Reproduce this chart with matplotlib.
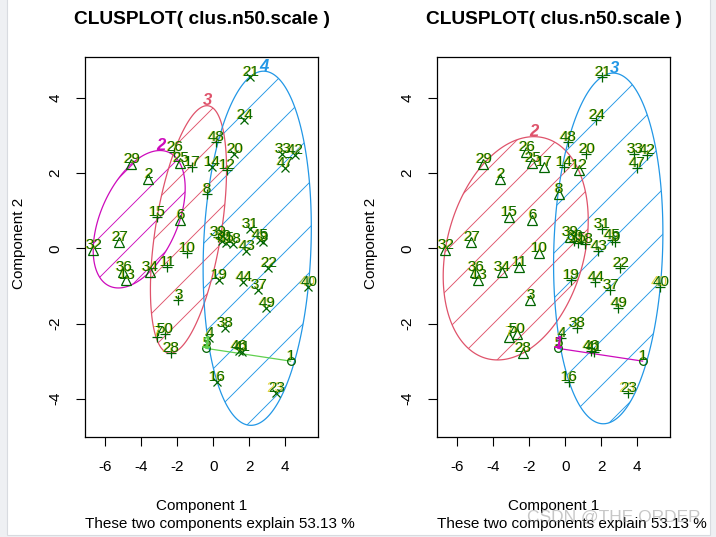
import numpy as np
import matplotlib
matplotlib.use('Agg')
import matplotlib.pyplot as plt
from matplotlib.patches import Polygon, Rectangle
from matplotlib.transforms import offset_copy

plt.rcParams['font.family'] = ['Liberation Sans', 'DejaVu Sans']

obs = list(range(1, 51))
pc1 = [4.30, -3.61, -1.94, -0.22, -0.41, -1.85, -3.10, -0.37, 2.75, -1.44,
       -2.56, 0.74, -4.82, -0.05, -3.11, 0.22, -1.20, 1.11, 0.33, 1.15,
       2.04, 3.06, 3.48, 1.71, -1.85, -2.17, -5.22, -2.37, -4.57, 0.50,
       2.04, -6.67, 3.85, -3.52, 0.70, -5.00, 2.50, 0.65, 0.25, 5.28,
       1.58, 4.54, 1.85, 1.67, 2.59, 1.42, 3.98, 0.15, 2.96, -2.70]
pc2 = [-3.00, 1.84, -1.38, -2.38, -2.66, 0.75, -2.37, 1.44, 0.17, -0.13,
       -0.50, 2.08, -0.85, 2.15, 0.84, -3.55, 2.17, 0.12, -0.84, 2.50,
       4.56, -0.53, -3.86, 3.41, 2.26, 2.57, 0.16, -2.79, 2.23, 0.20,
       0.51, -0.05, 2.51, -0.62, 0.15, -0.62, -1.11, -2.13, 0.29, -1.04,
       -2.76, 2.48, -0.08, -0.89, 0.22, -2.72, 2.13, 2.82, -1.60, -2.28]

# cluster membership: 4 clusters (left panel) and 3 clusters (right panel)
clus_k4 = [1, 2, 3, 4, 1, 2, 3, 3, 4, 3, 3, 3, 2, 4, 3, 4, 3, 4, 4, 4,
           4, 4, 4, 4, 2, 3, 2, 3, 2, 4, 4, 2, 4, 2, 4, 2, 4, 4, 3, 4,
           4, 4, 4, 4, 4, 4, 4, 3, 4, 3]
clus_k3 = [1, 2, 2, 3, 1, 2, 2, 2, 3, 2, 2, 2, 2, 3, 2, 3, 2, 3, 3, 3,
           3, 3, 3, 3, 2, 2, 2, 2, 2, 3, 3, 2, 3, 2, 3, 2, 3, 3, 2, 3,
           3, 3, 3, 3, 3, 3, 3, 3, 3, 2]

title = 'CLUSPLOT( clus.n50.scale )'
sub = 'These two components explain 53.13 %'
xticks = [-6, -4, -2, 0, 2, 4]
yticks = [-4, -2, 0, 2, 4]

pts = np.column_stack([pc1, pc2])

W, H = 716, 537
fig = plt.figure(figsize=(W / 100, H / 100), dpi=100)
fig.patch.set_facecolor('#eef0f3')
fig.patches.append(Rectangle((7 / W, 2 / H), 703 / W, 1.0, transform=fig.transFigure,
                             facecolor='white', edgecolor='#d8dbe0', lw=0.8, zorder=-5))

def fx(x):
    return x / W

def fy(y):
    return 1 - y / H

def hull_ellipse(P, tol=1e-5):
    # minimum volume ellipse (Titterington / Khachiyan), like ellipsoidhull
    n, d = P.shape
    Q = np.vstack([P.T, np.ones(n)])
    u = np.ones(n) / n
    for _ in range(5000):
        X = (Q * u) @ Q.T
        M = np.einsum('ij,ij->j', Q, np.linalg.solve(X, Q))
        j = np.argmax(M)
        step = (M[j] - d - 1) / ((d + 1) * (M[j] - 1))
        new = (1 - step) * u
        new[j] += step
        done = np.linalg.norm(new - u) < tol
        u = new
        if done:
            break
    c = P.T @ u
    D = P - c
    cov = (D.T * u) @ D
    d2 = np.max(np.einsum('ij,ij->i', D @ np.linalg.inv(cov), D))
    L = np.linalg.cholesky(cov * d2)
    t = np.linspace(0, 2 * np.pi, 300)
    return c + (L @ np.vstack([np.cos(t), np.sin(t)])).T

markers = {1: ('o', 5.5), 2: ('^', 6.5), 3: ('+', 7), 4: ('x', 5.5)}

panels = [
    (85.3, clus_k4, {1: '#61D04F', 2: '#CD0BBC', 3: '#DF536B', 4: '#2297E6'},
     {2: 40, 3: 36, 4: 45}),
    (437.3, clus_k3, {1: '#CD0BBC', 2: '#DF536B', 3: '#2297E6'},
     {2: 40, 3: 45}),
]

for left, clus, cols, spacing in panels:
    ax = fig.add_axes([fx(left), fy(436.7), 232.8 / W, 379.4 / H])
    ax.set_facecolor('none')
    ax.set_xlim(-7.11, 5.83)
    ax.set_ylim(-5.01, 5.08)
    ax.set_xticks(xticks)
    ax.set_yticks(yticks)
    ax.set_xticklabels([str(v) for v in xticks], fontsize=11)
    ax.set_yticklabels([str(v) for v in yticks], fontsize=11, rotation=90, va='center')
    ax.tick_params(direction='out', length=6.5, width=0.8, pad=10)
    for s in ax.spines.values():
        s.set_linewidth(0.9)
    clus = np.array(clus)
    lab_tr = offset_copy(ax.transData, fig=fig, x=0.5, y=5, units='dots')

    for k in sorted(cols):
        P = pts[clus == k]
        col = cols[k]
        if len(P) == 2:
            ax.plot(P[:, 0], P[:, 1], color=col, lw=0.9, zorder=2)
            top = P[np.argmax(P[:, 1])]
        else:
            E = hull_ellipse(P)
            patch = Polygon(E, closed=True, fill=False, edgecolor=col, lw=0.9, zorder=2)
            ax.add_patch(patch)
            top = E[np.argmax(E[:, 1])]
            # 45 degree shading lines, spaced in pixels like R polygon(density=)
            Dp = ax.transData.transform(E)
            cvals = Dp[:, 0] - Dp[:, 1]
            ymin, ymax = Dp[:, 1].min() - 5, Dp[:, 1].max() + 5
            sp = spacing[k]
            for c in np.arange(np.floor(cvals.min() / sp) * sp, cvals.max() + sp, sp):
                seg = np.array([[c + ymin, ymin], [c + ymax, ymax]])
                sd = ax.transData.inverted().transform(seg)
                ln, = ax.plot(sd[:, 0], sd[:, 1], color=col, lw=0.65, zorder=1)
                ln.set_clip_path(patch)
        ax.text(top[0], top[1], str(k), transform=lab_tr, color=col, fontsize=12,
                fontweight='bold', style='italic', ha='center', va='center', zorder=6)

    for k, (m, ms) in markers.items():
        sel = clus == k
        if not sel.any():
            continue
        if m in ('o', '^'):
            ax.plot(pts[sel, 0], pts[sel, 1], ls='none', marker=m, ms=ms, mfc='none',
                    mec='#006400', mew=0.9, zorder=3)
        else:
            ax.plot(pts[sel, 0], pts[sel, 1], ls='none', marker=m, ms=ms,
                    color='#006400', mew=0.9, zorder=3)

    # labels: dark green with the faint yellow fringe seen in the screenshot
    shadow = offset_copy(ax.transData, fig=fig, x=-0.6, y=5, units='dots')
    for i, lab in enumerate(obs):
        ax.text(pc1[i], pc2[i], str(lab), transform=shadow, color='#d9c600', fontsize=11,
                ha='center', va='center', zorder=4, alpha=0.75)
        ax.text(pc1[i], pc2[i], str(lab), transform=lab_tr, color='#0b6a00', fontsize=11,
                ha='center', va='center', zorder=5)

    cx = left + 116.4
    fig.text(fx(cx), fy(20), title, fontsize=13.8, fontweight='bold', ha='center', va='center')
    fig.text(fx(cx), fy(506), 'Component 1', fontsize=11, ha='center', va='center')
    fig.text(fx(left), fy(524), sub, fontsize=11, ha='left', va='center')
    fig.text(fx(left - 66), fy(243), 'Component 2', fontsize=11, ha='center', va='center',
             rotation=90)

fig.text(fx(614), fy(517), 'CSDN @THE ORDER', fontsize=12.5, color='#9a9a9a', alpha=0.55,
         ha='center', va='center')

fig.savefig('out.png', dpi=100)
